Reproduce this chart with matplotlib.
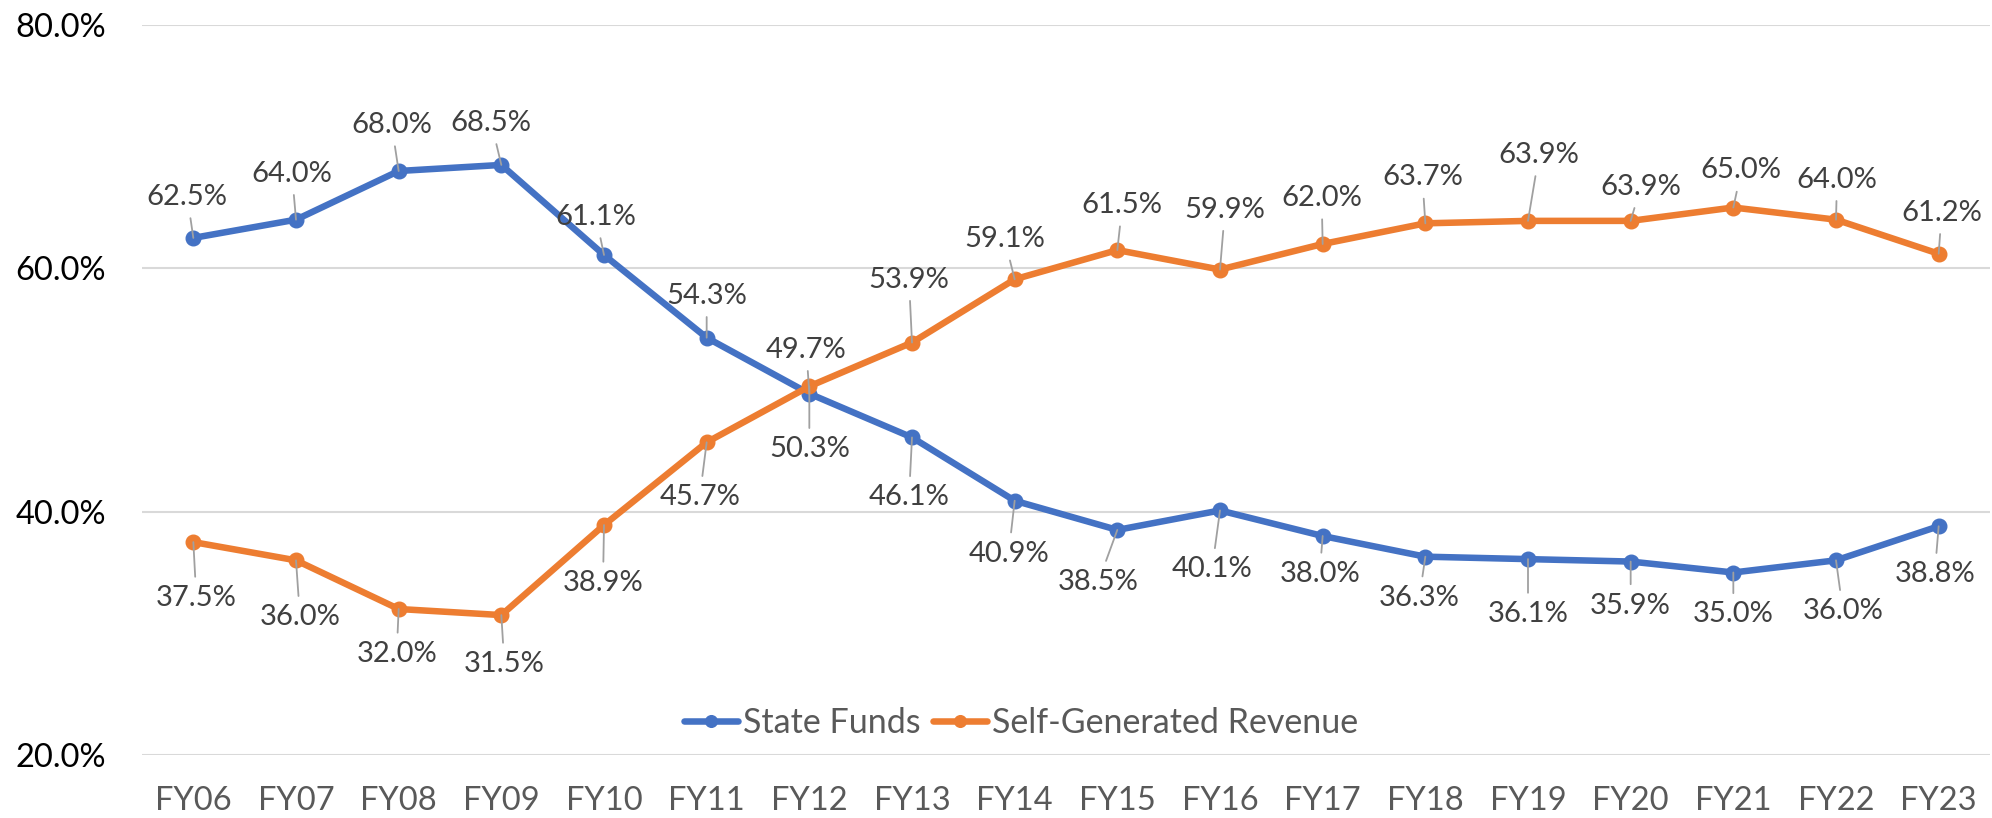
import matplotlib
matplotlib.use("Agg")
import matplotlib.pyplot as plt

years = ["FY06", "FY07", "FY08", "FY09", "FY10", "FY11", "FY12", "FY13", "FY14",
         "FY15", "FY16", "FY17", "FY18", "FY19", "FY20", "FY21", "FY22", "FY23"]
state_funds = [62.5, 64.0, 68.0, 68.5, 61.1, 54.3, 49.7, 46.1, 40.9,
               38.5, 40.1, 38.0, 36.3, 36.1, 35.9, 35.0, 36.0, 38.8]
self_generated = [37.5, 36.0, 32.0, 31.5, 38.9, 45.7, 50.3, 53.9, 59.1,
                  61.5, 59.9, 62.0, 63.7, 63.9, 63.9, 65.0, 64.0, 61.2]

# where each data label sits relative to its point (pixels, dx right / dy down)
state_off = [(-6, -41), (-4, -46), (-7, -46), (-10, -42), (-8, -38), (0, -42),
             (-3, -44), (-3, 60), (-6, 53), (-19, 52), (-8, 59), (-3, 38),
             (-6, 41), (0, 55), (0, 44), (0, 42), (7, 51), (-4, 48)]
self_off = [(3, 56), (4, 57), (-2, 45), (3, 49), (-1, 58), (-7, 55), (0, 63),
            (-3, -63), (-10, -40), (5, -45), (5, -60), (-1, -46), (-3, -46),
            (11, -66), (10, -34), (8, -37), (1, -40), (3, -41)]

blue = "#4472C4"
orange = "#ED7D31"

plt.rcParams['font.family'] = ['Lato', 'DejaVu Sans']

fig = plt.figure(figsize=(19.92, 8.18), dpi=100)
ax = fig.add_axes([142 / 1992, 1 - 755 / 818, (1990 - 142) / 1992, 730 / 818])

x = list(range(len(years)))
l1, = ax.plot(x, state_funds, color=blue, lw=4.7, marker='o', ms=10.5,
              label="State Funds", solid_capstyle='round')
l2, = ax.plot(x, self_generated, color=orange, lw=4.7, marker='o', ms=10.5,
              label="Self-Generated Revenue", solid_capstyle='round')


def put_labels(vals, offs):
    for i, v in enumerate(vals):
        dx, dy = offs[i]
        ax.annotate(f"{v:.1f}%", xy=(i, v), xytext=(dx, -dy),
                    textcoords='offset pixels', ha='center', va='center',
                    fontsize=21, color='#404040',
                    arrowprops=dict(arrowstyle='-', color='#A0A0A0', lw=1.3,
                                    shrinkA=4, shrinkB=0))


put_labels(state_funds, state_off)
put_labels(self_generated, self_off)

ax.set_xlim(-0.5, len(years) - 0.5)
ax.set_ylim(20, 80)
ax.set_yticks([20, 40, 60, 80])
ax.set_yticklabels([f"{t:.1f}%" for t in [20, 40, 60, 80]])
ax.set_xticks(x)
ax.set_xticklabels(years)
ax.tick_params(axis='y', length=0, pad=26, labelsize=23.5, labelcolor='black')
ax.tick_params(axis='x', length=0, pad=22, labelsize=23.5, labelcolor='#595959')
ax.grid(axis='y', color='#D9D9D9', lw=1.5)
ax.set_axisbelow(True)
for s in ax.spines.values():
    s.set_visible(False)

ax.legend(handles=[l1, l2], loc='center', bbox_to_anchor=(1021 / 1992, 1 - 723 / 818),
          bbox_transform=fig.transFigure, ncol=2, frameon=False, fontsize=24.5,
          handlelength=1.6, handletextpad=0.15, columnspacing=0.35,
          markerscale=0.8, labelcolor='#595959')

fig.savefig("out.png", dpi=100)
